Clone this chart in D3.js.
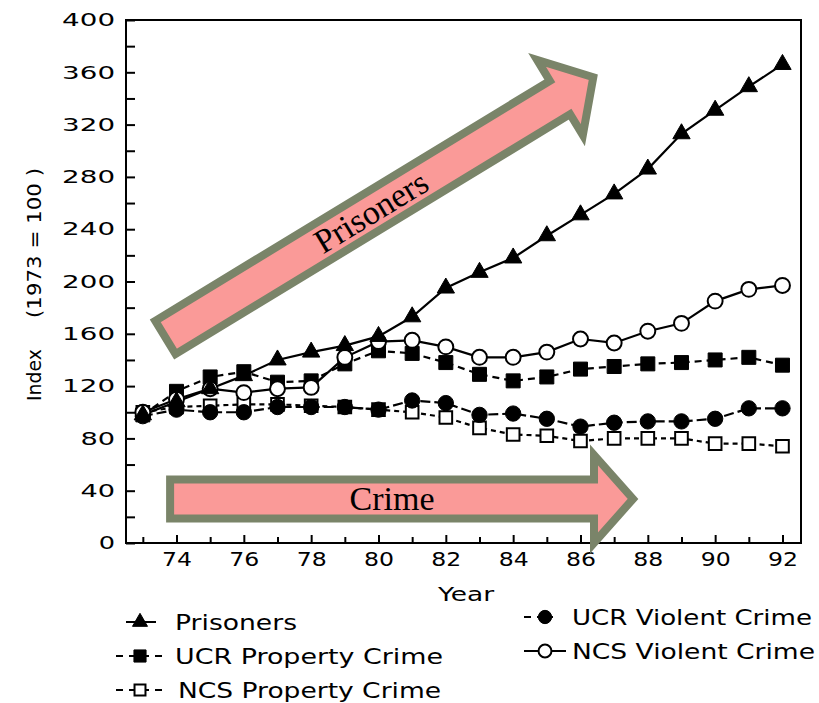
<!DOCTYPE html>
<html><head><meta charset="utf-8">
<script src="https://cdn.jsdelivr.net/npm/d3@7"></script>
<style>body{margin:0;background:#fff}svg{display:block}</style>
</head><body>
<script>
// ---------- data ----------
const years = [73,74,75,76,77,78,79,80,81,82,83,84,85,86,87,88,89,90,91,92];
const prisoners   = [98,108,118,128,140,146,151,158,173,195,207,218,235,251,267,286,313,331,349,366];
const ucrProperty = [98,116,127,131,123,124,137,147,145,138,129,124,127,133,135,137,138,140,142,136];
const ncsProperty = [100,104,105,106,106,105,104,102,100,96,88,83,82,78,80,80,80,76,76,74];
const ucrViolent  = [97,102,100,100,104,104,104,102,109,107,98,99,95,89,92,93,93,95,103,103];
const ncsViolent  = [100,110,118,115,118,119,142,154,155,150,142,142,146,156,153,162,168,185,194,197];
const seriesNames = ["Prisoners","UCR Property Crime","NCS Property Crime","UCR Violent Crime","NCS Violent Crime"];
const yTicks = [0,20,40,60,80,100,120,140,160,180,200,220,240,260,280,300,320,340,360,380,400];
const yTickLabels = [0,40,80,120,160,200,240,280,320,360,400];
const xTickLabels = [74,76,78,80,82,84,86,88,90,92];
const yTitleParts = ["Index","(1973 = 100 )"];
const arrowLabels = ["Prisoners","Crime"];

// ---------- setup ----------
const W = 819, H = 703;
const svg = d3.select("body").append("svg").attr("width",W).attr("height",H)
  .style("background","#fff");
const x = d3.scaleLinear().domain([72.5, 92.55]).range([126, 801]);
const y = d3.scaleLinear().domain([0, 400]).range([543, 20]);
const SANS = "'DejaVu Sans', sans-serif";

// frame
svg.append("rect").attr("x",x.range()[0]).attr("y",y.range()[1])
  .attr("width",x.range()[1]-x.range()[0]).attr("height",y.range()[0]-y.range()[1])
  .attr("fill","none").attr("stroke","#000").attr("stroke-width",2);

// x axis
const gx = svg.append("g").attr("transform",`translate(0,${y(0)})`)
  .call(d3.axisBottom(x).tickValues(years).tickSize(-7).tickPadding(10)
    .tickFormat(d => xTickLabels.includes(d) ? String(d) : ""));
gx.select(".domain").remove();
gx.selectAll(".tick line").attr("stroke","#000").attr("stroke-width",2)
  .attr("y2", d => xTickLabels.includes(d) ? -8 : -6);
gx.selectAll(".tick text").attr("fill","#000").style("font-family",SANS).style("font-size","19px")
  .each(function(d){ if (xTickLabels.includes(d)) d3.select(this).attr("textLength",30).attr("lengthAdjust","spacingAndGlyphs"); });

// y axis
const gy = svg.append("g").attr("transform",`translate(${x.range()[0]},0)`)
  .call(d3.axisLeft(y).tickValues(yTicks).tickSize(-9).tickPadding(11)
    .tickFormat(d => yTickLabels.includes(d) ? String(d) : ""));
gy.select(".domain").remove();
gy.selectAll(".tick line").attr("stroke","#000").attr("stroke-width",2);
gy.selectAll(".tick text").attr("fill","#000").style("font-family",SANS).style("font-size","18px")
  .each(function(d){ if (yTickLabels.includes(d)) d3.select(this).attr("textLength",String(d).length*18.3-2).attr("lengthAdjust","spacingAndGlyphs"); });

// axis titles
svg.append("text").text("Year").attr("x",466).attr("y",601).attr("text-anchor","middle")
  .style("font-family",SANS).style("font-size","20px").attr("textLength",56).attr("lengthAdjust","spacingAndGlyphs");
const yTitle = [
  {t: yTitleParts[0], c: 375, len: 52},
  {t: yTitleParts[1], c: 243, len: 150},
];
yTitle.forEach(p => {
  svg.append("text").text(p.t)
    .attr("transform",`translate(41,${p.c}) rotate(-90)`).attr("text-anchor","middle")
    .style("font-family",SANS).style("font-size","19px")
    .attr("textLength",p.len).attr("lengthAdjust","spacingAndGlyphs");
});

// ---------- series ----------
const styles = [
  {values: prisoners,   symbol: d3.symbolTriangle, size: 130, fill:"#000", dash:null},
  {values: ucrProperty, symbol: d3.symbolSquare,   size: 196, fill:"#000", dash:"7,5"},
  {values: ncsProperty, symbol: d3.symbolSquare,   size: 160, fill:"#fff", dash:"5,4"},
  {values: ucrViolent,  symbol: d3.symbolCircle,   size: 185, fill:"#000", dash:"10,4"},
  {values: ncsViolent,  symbol: d3.symbolCircle,   size: 175, fill:"#fff", dash:null},
];
const series = styles.map((s,i) => ({name: seriesNames[i], ...s,
  points: years.map((yr,j) => ({yr, v: s.values[j]}))}));

const line = d3.line().x(d => x(d.yr)).y(d => y(d.v));
const order = [2,1,3,4,0];
order.forEach(i => {
  const s = series[i];
  svg.append("path").datum(s.points).attr("d",line).attr("fill","none")
    .attr("stroke","#000").attr("stroke-width",2.2)
    .attr("stroke-dasharray", s.dash);
});
order.forEach(i => {
  const s = series[i];
  svg.append("g").selectAll("path").data(s.points).join("path")
    .attr("transform", d => `translate(${x(d.yr)},${y(d.v)})`)
    .attr("d", d3.symbol(s.symbol, s.size))
    .attr("fill", s.fill).attr("stroke","#000").attr("stroke-width", s.fill === "#fff" ? 2 : 1);
});

// ---------- legend ----------
const legendPos = [
  {lx0:126, lx1:156, mx:140, ty:622, tx:175, tw:122},
  {lx0:116, lx1:166, mx:140, ty:656, tx:175, tw:268},
  {lx0:116, lx1:166, mx:140, ty:690, tx:178, tw:263},
  {lx0:524, lx1:553, mx:545, ty:617, tx:572, tw:240},
  {lx0:524, lx1:566, mx:545, ty:651, tx:572, tw:243},
];
series.forEach((s,i) => {
  const p = legendPos[i];
  const g = svg.append("g");
  g.append("line").attr("x1",p.lx0).attr("x2",p.lx1).attr("y1",p.ty).attr("y2",p.ty)
    .attr("stroke","#000").attr("stroke-width",2).attr("stroke-dasharray", s.dash ? "7,6" : null);
  g.append("path").attr("transform",`translate(${p.mx},${p.ty})`)
    .attr("d", d3.symbol(s.symbol, s.size*0.75)).attr("fill", s.fill)
    .attr("stroke","#000").attr("stroke-width", s.fill === "#fff" ? 2 : 1);
  g.append("text").text(s.name).attr("x",p.tx).attr("y",p.ty).attr("dy","0.36em")
    .style("font-family",SANS).style("font-size","21px")
    .attr("textLength",p.tw).attr("lengthAdjust","spacingAndGlyphs");
});

// ---------- annotation arrows ----------
const arrows = [
  {label: arrowLabels[0], from:[73.67,157.2], to:[86.38,356.2], textAt:241},
  {label: arrowLabels[1], from:[73.81,33.7],  to:[87.56,33.7],  textAt:222},
];
const SH = 19.5, HH = 44, HL = 39;
arrows.forEach(a => {
  const x0 = x(a.from[0]), y0 = y(a.from[1]), x1 = x(a.to[0]), y1 = y(a.to[1]);
  const len = Math.hypot(x1-x0, y1-y0);
  const ang = Math.atan2(y1-y0, x1-x0) * 180/Math.PI;
  const pts = [[0,-SH],[len-HL,-SH],[len-HL,-HH],[len,0],[len-HL,HH],[len-HL,SH],[0,SH]];
  const g = svg.append("g").attr("transform",`translate(${x0},${y0}) rotate(${ang})`);
  g.append("path").attr("d", d3.line()(pts) + "Z")
    .attr("fill","#fa9a98").attr("stroke","#7a8469").attr("stroke-width",8)
    .attr("stroke-linejoin","miter").attr("stroke-miterlimit",10);
  g.append("text").text(a.label).attr("x",a.textAt).attr("y",11)
    .attr("text-anchor","middle")
    .style("font-family","'Liberation Serif', 'DejaVu Serif', serif").style("font-size","34px")
    .attr("fill","#000");
});
</script>
</body></html>
